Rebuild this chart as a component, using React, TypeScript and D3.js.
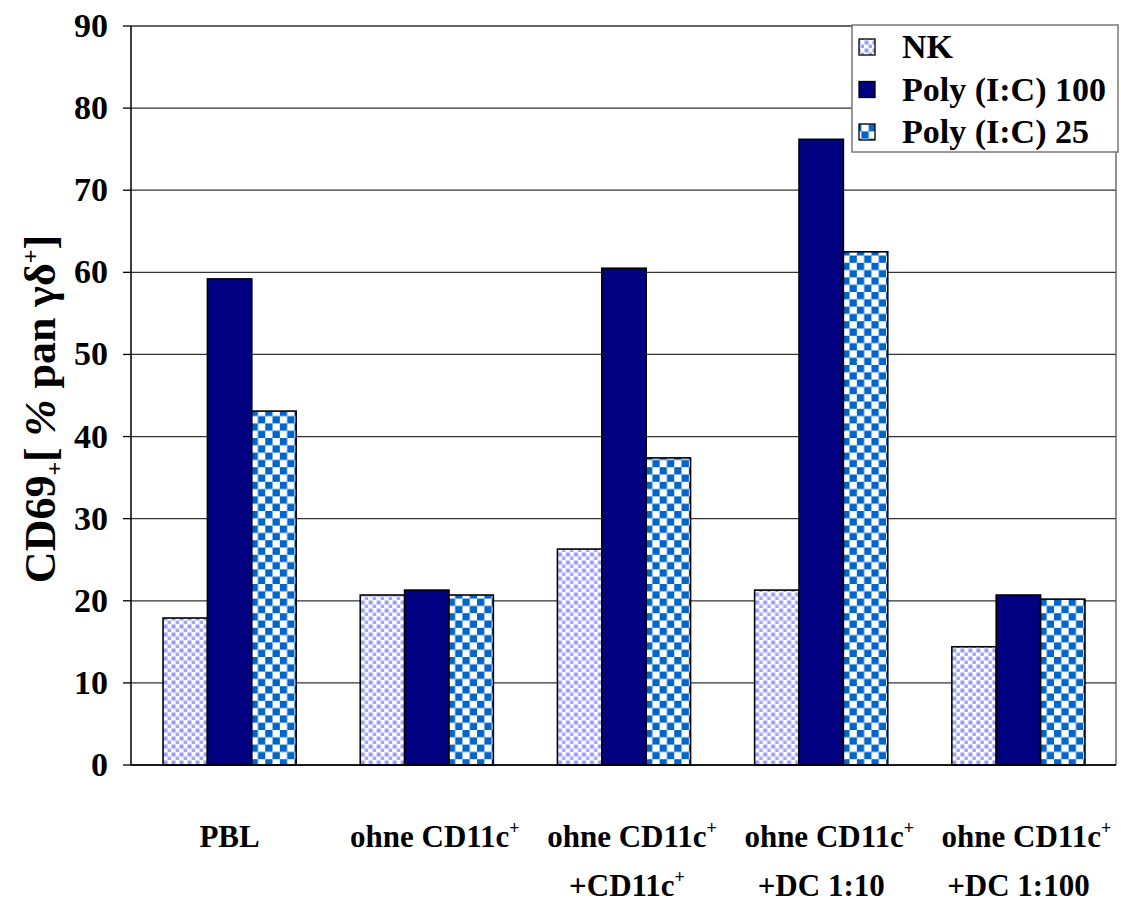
import React from "react";
import * as d3 from "d3";

const categories = ["PBL", "ohne CD11c+", "ohne CD11c+ +CD11c+", "ohne CD11c+ +DC 1:10", "ohne CD11c+ +DC 1:100"];
const seriesNames = ["NK", "Poly (I:C) 100", "Poly (I:C) 25"];
const nkValues = [17.9, 20.7, 26.3, 21.3, 14.4];
const poly100Values = [59.2, 21.3, 60.5, 76.2, 20.7];
const poly25Values = [43.1, 20.7, 37.4, 62.5, 20.2];
const yTicks = [0, 10, 20, 30, 40, 50, 60, 70, 80, 90];

const W = 1121, H = 907;
const left = 131, right = 1117, top = 26, bottom = 765;
const FONT = "'Liberation Serif', 'Times New Roman', serif";

export default function App() {
  const x0 = d3.scaleBand<number>().domain(d3.range(categories.length)).range([left, right]).paddingInner(0.325).paddingOuter(0.1625);
  const x1 = d3.scaleBand<number>().domain([0, 1, 2]).range([0, x0.bandwidth()]);
  const y = d3.scaleLinear().domain([0, 90]).range([bottom, top]);
  const series = [nkValues, poly100Values, poly25Values];
  const fills = ["url(#nkPat)", "#000080", "url(#checkPat)"];

  const labelLines: [string, boolean, string, boolean][] = [
    ["PBL", false, "", false],
    ["ohne CD11c", true, "", false],
    ["ohne CD11c", true, "+CD11c", true],
    ["ohne CD11c", true, "+DC 1:10", false],
    ["ohne CD11c", true, "+DC 1:100", false],
  ];

  return (
    <svg width={W} height={H} style={{ position: "absolute", left: 0, top: 0, background: "#fff" }} fontFamily={FONT}>
      <defs>
        <pattern id="nkPat" width="8" height="8" patternUnits="userSpaceOnUse">
          <rect width="8" height="8" fill="#fff" />
          <rect x="0.5" y="0.5" width="4" height="4" fill="#9999ff" />
          <rect x="4.5" y="4.5" width="3.5" height="3.5" fill="#a3a3ff" />
        </pattern>
        <pattern id="checkPat" width="14.6" height="14.6" patternUnits="userSpaceOnUse">
          <rect width="14.6" height="14.6" fill="#fff" />
          <rect x="0" y="0" width="7.3" height="7.3" fill="#0066cc" />
          <rect x="7.3" y="7.3" width="7.3" height="7.3" fill="#0066cc" />
        </pattern>
      </defs>
      {yTicks.map((t) => (
        <line key={t} x1={left} x2={right - 1} y1={y(t)} y2={y(t)} stroke="#333" strokeWidth={1.3} />
      ))}
      <line x1={right - 1} x2={right - 1} y1={top} y2={bottom} stroke="#555" strokeWidth={1.3} />
      {categories.map((c, i) => (
        <g key={c} transform={`translate(${x0(i)},0)`}>
          {series.map((vals, s) => (
            <rect
              key={s}
              x={x1(s)!}
              y={y(vals[i])}
              width={x1.bandwidth()}
              height={y(0) - y(vals[i])}
              fill={fills[s]}
              stroke="#000"
              strokeWidth={1.6}
            />
          ))}
        </g>
      ))}
      <line x1={left} x2={left} y1={top} y2={bottom} stroke="#000" strokeWidth={1.5} />
      <line x1={left} x2={right - 1} y1={bottom} y2={bottom} stroke="#000" strokeWidth={1.5} />
      {yTicks.map((t) => (
        <g key={t}>
          <line x1={left - 8} x2={left} y1={y(t)} y2={y(t)} stroke="#000" strokeWidth={1.3} />
          <text x={108} y={y(t) + 11} textAnchor="end" fontSize={34} fontWeight="bold">{t}</text>
        </g>
      ))}
      <text transform={`translate(55,409) rotate(-90)`} textAnchor="middle" fontSize={44} fontWeight="bold">
        CD69<tspan fontSize={24} dy="7">+</tspan><tspan dy="-7">[ </tspan><tspan fontStyle="italic">%</tspan> pan γδ<tspan fontSize={24} dy="-17">+</tspan><tspan dy="17">]</tspan>
      </text>
      {labelLines.map((l, i) => {
        const cx = x0(i)! + x0.bandwidth() / 2;
        return (
          <g key={i} fontSize={31} fontWeight="bold">
            <text x={cx + (l[1] ? 8 : 0)} y={847} textAnchor="middle">
              {l[0]}{l[1] ? <tspan fontSize={18} dy="-13">+</tspan> : null}
            </text>
            {l[2] ? (
              <text x={cx + (l[3] ? 3 : 0)} y={896} textAnchor="middle">
                {l[2]}{l[3] ? <tspan fontSize={18} dy="-13">+</tspan> : null}
              </text>
            ) : null}
          </g>
        );
      })}
      <g>
        <rect x={852} y={25} width={266} height={127} fill="#fff" stroke="#777" strokeWidth={1.5} />
        {seriesNames.map((n, i) => {
          const cy = 47 + i * 42.5;
          return (
            <g key={n}>
              <rect x={859} y={cy - 8} width={16} height={16} fill={fills[i]} stroke="#000" strokeWidth={1.3} />
              <text x={902} y={cy + 11} fontSize={34} fontWeight="bold">{n}</text>
            </g>
          );
        })}
      </g>
    </svg>
  );
}
